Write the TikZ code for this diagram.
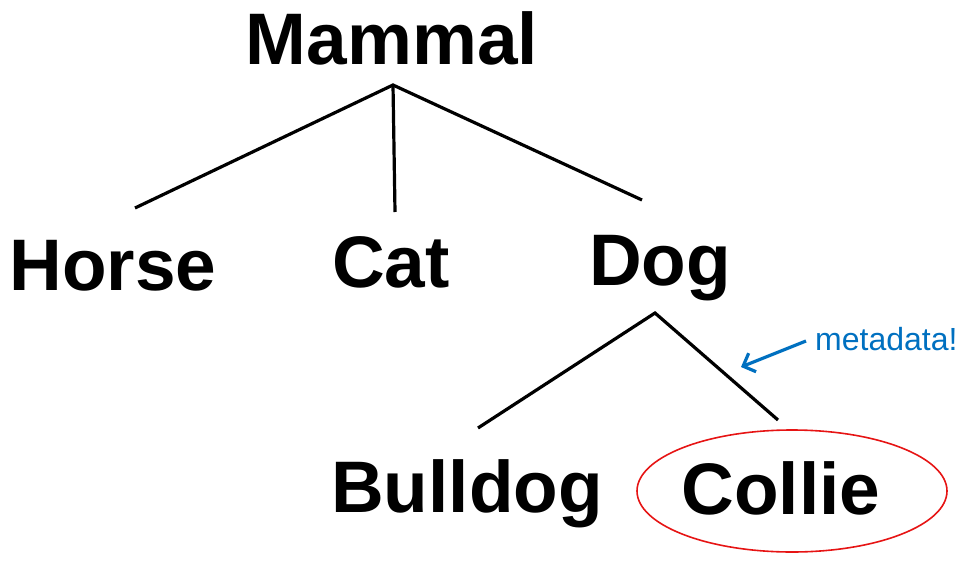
\documentclass[tikz,border=0pt]{standalone}
\usepackage{fontspec}
\setmainfont{Liberation Sans}
\usetikzlibrary{arrows.meta}
\definecolor{noteblue}{RGB}{0,112,192}
\definecolor{ringred}{RGB}{230,20,20}
\tikzset{taxon/.style={
  font=\fontsize{73}{80}\selectfont\bfseries,
  anchor=base,
  inner sep=0pt,
  },
  branch/.style={
  draw=black,
  line width=3.2pt,
  },
  }
\begin{document}
\begin{tikzpicture}[x=1pt,y=-1pt]
  \useasboundingbox (0,0) rectangle (961,562);
  \node[taxon] (mammal)  at (392,64)  {Mammal};
  \node[taxon] (horse)   at (113,290) {Horse};
  \node[taxon] (cat)     at (391,287) {Cat};
  \node[taxon] (dog)     at (660,285) {Dog};
  \node[taxon] (bulldog) at (467,512) {Bulldog};
  \node[taxon] (collie)  at (781,514) {Collie};
  % branch ends
  \coordinate (mammal-foot) at (393,85);
  \coordinate (horse-top)   at (135,208);
  \coordinate (cat-top)     at (395,212);
  \coordinate (dog-top)     at (642,200);
  \coordinate (dog-foot)    at (655,313);
  \coordinate (bulldog-top) at (478,428);
  \coordinate (collie-top)  at (778,420);
  \draw[branch] (horse-top) -- (mammal-foot) -- (dog-top);
  \draw[branch] (mammal-foot) -- (cat-top);
  \draw[branch] (bulldog-top) -- (dog-foot) -- (collie-top);
  % the marked leaf
  \draw[ringred, line width=1.6pt] ([xshift=11pt,yshift=23pt]collie.base) ellipse [x radius=155, y radius=61];
  \node[text=noteblue, font=\fontsize{32}{36}\selectfont, anchor=base west, inner sep=0pt] (note) at (815,350) {metadata!};
  \coordinate (note-tail) at (806,341);
  \draw[noteblue, line width=3.2pt, -{Straight Barb[length=10pt,width=20pt]}] (note-tail) -- (741,367);
\end{tikzpicture}
\end{document}
